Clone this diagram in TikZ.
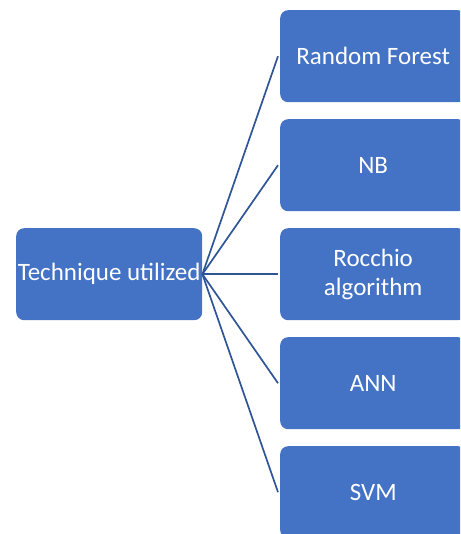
\documentclass[tikz,border=0pt]{standalone}
\usepackage{fontspec}
\setmainfont{Carlito}
\definecolor{boxblue}{HTML}{4472C4}
\definecolor{lineblue}{HTML}{2F5597}
\tikzset{
  box/.style={fill=boxblue, draw=none, rounded corners=8pt, minimum width=186pt, minimum height=92pt, inner sep=0pt, text=white, align=center, font=\fontsize{25}{29}\selectfont, anchor=north west},
  conn/.style={draw=lineblue, line width=1.7pt}
}
\begin{document}
\begin{tikzpicture}[x=1pt,y=-1pt]
\useasboundingbox (0,0) rectangle (460,534);
\clip (0,0) rectangle (460,534);
\node[box] (root) at (16,228) {Technique utilized};
\node[box] (rf) at (280,10) {Random Forest};
\node[box] (nb) at (280,119) {NB};
\node[box] (ro) at (280,228) {Rocchio\\algorithm};
\node[box] (ann) at (280,337) {ANN};
\node[box] (svm) at (280,446) {SVM};
\foreach \t in {rf,nb,ro,ann,svm}{
  \draw[conn] (root.east) -- ([xshift=-2pt]\t.west);
}
\end{tikzpicture}
\end{document}
